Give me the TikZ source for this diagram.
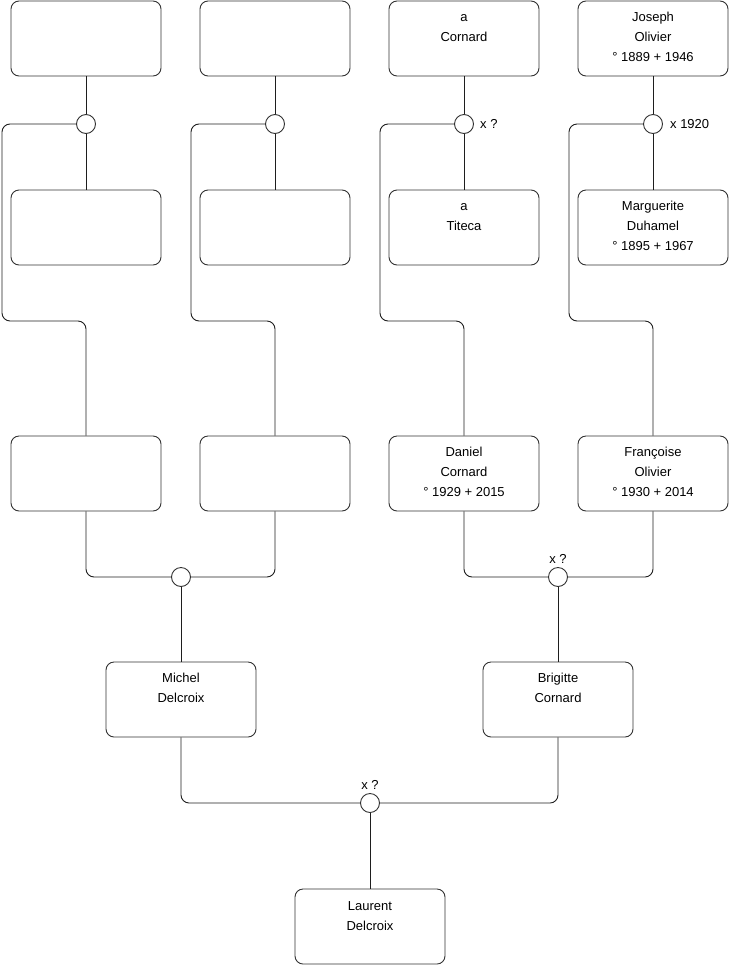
\documentclass[tikz,border=0pt]{standalone}
\usepackage{fontspec}
\setmainfont{Liberation Sans}
\usetikzlibrary{positioning}
\definecolor{linecolor}{RGB}{30,30,30}
\definecolor{boxcolor}{RGB}{50,50,50}
\newcommand{\firstline}{\rule{0pt}{10pt}}

\begin{document}
\begin{tikzpicture}[
    x=1pt, y=-1pt,
    every node/.style={font=\fontsize{13}{20}\selectfont},
    person/.style={rectangle, rounded corners=8pt, draw=boxcolor, line width=0.9pt, minimum width=150pt, minimum height=75pt, inner sep=0pt},
    nametext/.style={anchor=north, align=center, inner sep=0pt, yshift=-10.6pt},
    union/.style={circle, draw=boxcolor, line width=0.9pt, minimum size=19pt, inner sep=0pt, fill=white},
    unionlabel/.style={inner sep=0pt},
    link/.style={draw=linecolor, line width=0.9pt, rounded corners=8pt}
]
\useasboundingbox (0,0) rectangle (740,975);

% Row 1: great-grandparents (fathers)
\node[person] (gg1) at (86,38.5) {};
\node[person] (gg3) at (275,38.5) {};
\node[person] (gg5) at (464,38.5) {};
\node[nametext] (gg5-text) at (gg5.north) {\firstline a\\Cornard};
\node[person] (gg7) at (653,38.5) {};
\node[nametext] (gg7-text) at (gg7.north) {\firstline Joseph\\Olivier\\° 1889 + 1946};

% Row 2: great-grandparents (mothers)
\node[person] (gg2) at (86,227.5) {};
\node[person] (gg4) at (275,227.5) {};
\node[person] (gg6) at (464,227.5) {};
\node[nametext] (gg6-text) at (gg6.north) {\firstline a\\Titeca};
\node[person] (gg8) at (653,227.5) {};
\node[nametext] (gg8-text) at (gg8.north) {\firstline Marguerite\\Duhamel\\° 1895 + 1967};

% Marriages of great-grandparents
\node[union] (m1) at (86,124) {};
\node[union] (m2) at (275,124) {};
\node[union] (m3) at (464,124) {};
\node[union] (m4) at (653,124) {};
\node[unionlabel, anchor=west, right=6pt of m3] (m3-label) {x ?};
\node[unionlabel, anchor=west, right=7pt of m4] (m4-label) {x 1920};

% Row 3: grandparents
\node[person] (g1) at (86,473.5) {};
\node[person] (g2) at (275,473.5) {};
\node[person] (g3) at (464,473.5) {};
\node[nametext] (g3-text) at (g3.north) {\firstline Daniel\\Cornard\\° 1929 + 2015};
\node[person] (g4) at (653,473.5) {};
\node[nametext] (g4-text) at (g4.north) {\firstline Françoise\\Olivier\\° 1930 + 2014};

% Marriages of grandparents
\node[union] (m5) at (181,577) {};
\node[union] (m6) at (558,577) {};
\node[unionlabel, anchor=base] (m6-label) at (558,563.5) {x ?};

% Row 4: parents
\node[person] (par1) at (181,699.5) {};
\node[nametext] (par1-text) at (par1.north) {\firstline Michel\\Delcroix};
\node[person] (par2) at (558,699.5) {};
\node[nametext] (par2-text) at (par2.north) {\firstline Brigitte\\Cornard};

\node[union] (m7) at (370,803) {};
\node[unionlabel, anchor=base] (m7-label) at (370,789.5) {x ?};

% Row 5: child
\node[person] (kid) at (370,926.5) {};
\node[nametext, yshift=-1.5pt] (kid-text) at (kid.north) {\firstline Laurent\\Delcroix};

% Connectors
\foreach \i/\j/\k/\s in {1/1/2/2, 2/3/4/191, 3/5/6/380, 4/7/8/569} {
    \draw[link] (gg\j.south) -- (m\i.north);
    \draw[link] (m\i.south) -- (gg\k.north);
    \draw[link] (m\i.west) -| (\s,321) -| (g\i.north);
}
\draw[link] (g1.south) |- (m5.west);
\draw[link] (g2.south) |- (m5.east);
\draw[link] (g3.south) |- (m6.west);
\draw[link] (g4.south) |- (m6.east);
\draw[link] (m5.south) -- (par1.north);
\draw[link] (m6.south) -- (par2.north);
\draw[link] (par1.south) |- (m7.west);
\draw[link] (par2.south) |- (m7.east);
\draw[link] (m7.south) -- (kid.north);

\end{tikzpicture}
\end{document}
